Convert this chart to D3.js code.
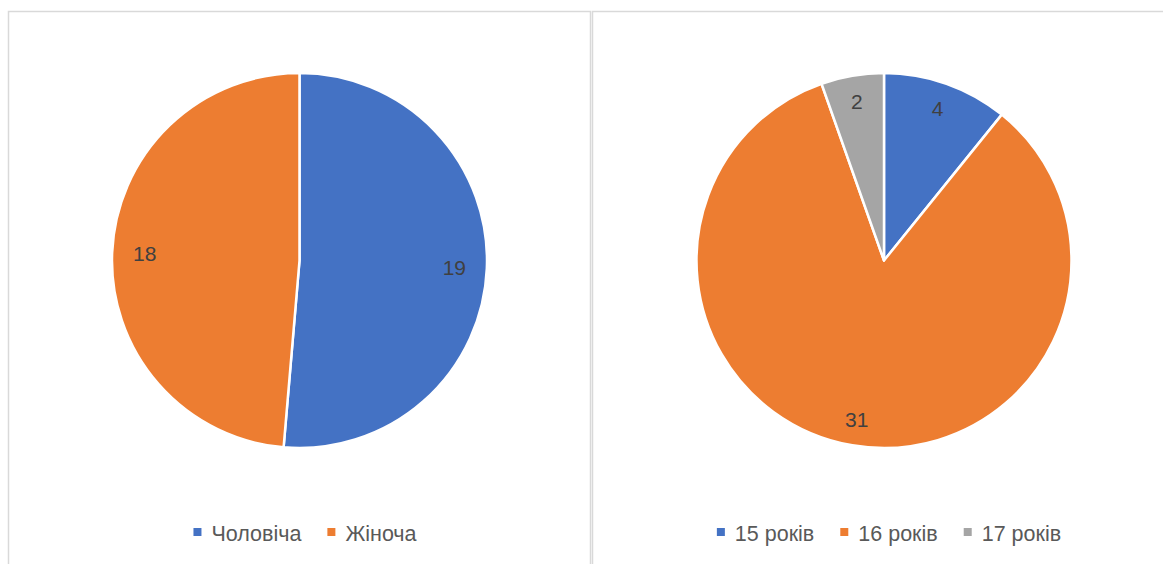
<!DOCTYPE html>
<html><head><meta charset="utf-8">
<script src="https://cdn.jsdelivr.net/npm/d3@7"></script>
<style>html,body{margin:0;padding:0;background:#fff;}svg{display:block;}</style>
</head><body>
<svg id="c" width="1163" height="564"></svg>
<script>
const genderCats = ["Чоловіча", "Жіноча"];
const genderVals = [19, 18];
const ageCats = ["15 років", "16 років", "17 років"];
const ageVals = [4, 31, 2];
const colors = ["#4472C4", "#ED7D31", "#A5A5A5"];

const svg = d3.select("#c");
const font = "'Liberation Sans', Arial, sans-serif";

// chart boxes
svg.append("rect").attr("x", 8.5).attr("y", 11.5).attr("width", 582).attr("height", 600)
  .attr("fill", "#fff").attr("stroke", "#d9d9d9").attr("stroke-width", 1.5);
svg.append("rect").attr("x", 592.5).attr("y", 11.5).attr("width", 620).attr("height", 600)
  .attr("fill", "#fff").attr("stroke", "#d9d9d9").attr("stroke-width", 1.5);

function drawPie(cx, cy, r, cats, vals, labelR, legendCx) {
  const g = svg.append("g").attr("transform", `translate(${cx},${cy})`);
  const pie = d3.pie().sort(null).value(d => d)(vals);
  const arc = d3.arc().innerRadius(0).outerRadius(r);
  const lab = d3.arc().innerRadius(labelR).outerRadius(labelR);
  g.selectAll("path").data(pie).join("path")
    .attr("d", arc).attr("fill", (d, i) => colors[i])
    .attr("stroke", "#fff").attr("stroke-width", 2.5).attr("stroke-linejoin", "round");
  g.selectAll("text").data(pie).join("text")
    .attr("transform", d => `translate(${lab.centroid(d)})`)
    .attr("text-anchor", "middle").attr("dy", "0.36em")
    .attr("font-family", font).attr("font-size", 21).attr("fill", "#404040")
    .text(d => d.data);
  // legend
  const lg = svg.append("g");
  let x = 0;
  const gap = 26;
  cats.forEach((c, i) => {
    lg.append("rect").attr("x", x).attr("y", 528).attr("width", 8).attr("height", 8).attr("fill", colors[i]);
    const t = lg.append("text").attr("x", x + 18).attr("y", 540.5)
      .attr("font-family", font).attr("font-size", 21.5).attr("fill", "#595959").text(c);
    const w = t.node().getComputedTextLength();
    x = x + 18 + w + (i < cats.length - 1 ? gap : 0);
  });
  lg.attr("transform", `translate(${legendCx - x / 2},0)`);
}

drawPie(299.5, 260.5, 187.5, genderCats, genderVals, 155, 305);
drawPie(884, 260.5, 187.5, ageCats, ageVals, 161, 889);
</script>
</body></html>
